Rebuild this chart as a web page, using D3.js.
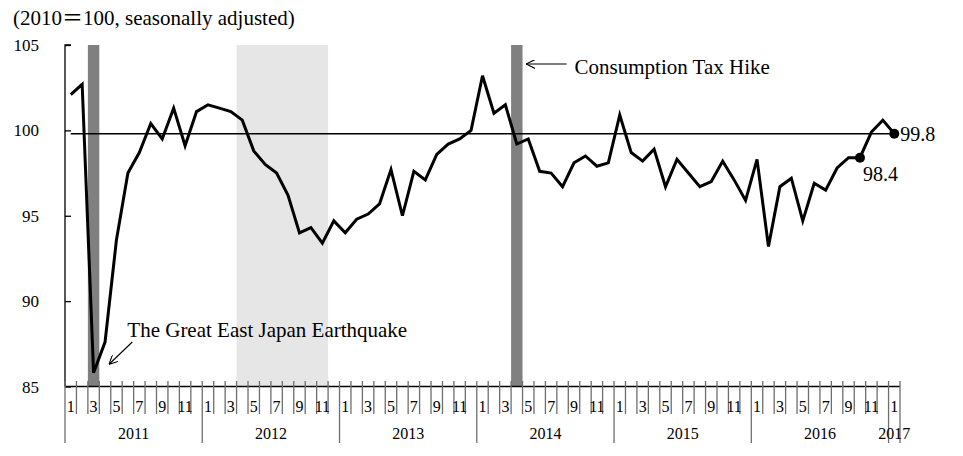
<!DOCTYPE html>
<html>
<head>
<meta charset="utf-8">
<script src="https://cdn.jsdelivr.net/npm/d3@7"></script>
<style>
  html, body { margin: 0; padding: 0; background: #fff; }
  svg { display: block; }
  text { font-family: "Liberation Serif", "Times New Roman", serif; fill: #000; }
</style>
</head>
<body>
<svg id="chart" width="963" height="456"></svg>
<script>
// ---- data ----
const years = [2011, 2012, 2013, 2014, 2015, 2016, 2017];
const values2011 = [102.1, 102.7, 85.8, 87.6, 93.6, 97.5, 98.7, 100.4, 99.5, 101.3, 99.1, 101.1];
const values2012 = [101.5, 101.3, 101.1, 100.6, 98.8, 98.0, 97.5, 96.2, 94.0, 94.3, 93.4, 94.7];
const values2013 = [94.0, 94.8, 95.1, 95.7, 97.7, 95.0, 97.6, 97.1, 98.6, 99.2, 99.5, 100.0];
const values2014 = [103.2, 101.0, 101.5, 99.2, 99.5, 97.6, 97.5, 96.7, 98.1, 98.5, 97.9, 98.1];
const values2015 = [100.9, 98.7, 98.2, 98.9, 96.7, 98.3, 97.5, 96.7, 97.0, 98.2, 97.1, 95.9];
const values2016 = [98.3, 93.2, 96.7, 97.2, 94.7, 96.9, 96.5, 97.8, 98.4, 98.4, 99.9, 100.6];
const values2017 = [99.8];
const yTicks = [85, 90, 95, 100, 105];
const monthLabels = ["1", "", "3", "", "5", "", "7", "", "9", "", "11", ""];
const referenceLevel = 99.8;
const markedPoints = [{ year: 2016, month: 10, label: "98.4" }, { year: 2017, month: 1, label: "99.8" }];
const taxHike = [{ year: 2011, month: 3 }, { year: 2014, month: 4 }];            // dark bars
const recession = { from: { year: 2012, month: 4 }, to: { year: 2012, month: 11 } }; // light shading
const titleParts = ["(2010", "\uFF1D", "100, seasonally adjusted)"];
const quakeText = "The Great East Japan Earthquake";
const taxText = "Consumption Tax Hike";

// ---- build monthly series ----
const yearValues = [values2011, values2012, values2013, values2014, values2015, values2016, values2017];
const series = [];
yearValues.forEach((vals, yi) => vals.forEach((v, mi) => series.push({ year: years[yi], month: mi + 1, value: v, key: years[yi] + "-" + (mi + 1) })));
const keyOf = (yr, m) => yr + "-" + m;

// ---- layout ----
const svg = d3.select("#chart");
const pLeft = 65, pRight = 900, pTop = 45, pBottom = 386.5;

const x = d3.scaleBand().domain(series.map(d => d.key)).range([pLeft, pRight]).paddingInner(0).paddingOuter(0);
const bw = x.bandwidth();
const cx = k => x(k) + bw / 2;
const y = d3.scaleLinear().domain([85, 105]).range([pBottom, pTop]);

// shading
svg.append("rect")
  .attr("x", x(keyOf(recession.from.year, recession.from.month)))
  .attr("width", x(keyOf(recession.to.year, recession.to.month)) + bw - x(keyOf(recession.from.year, recession.from.month)))
  .attr("y", pTop).attr("height", pBottom - pTop)
  .attr("fill", "#e6e6e6");

svg.selectAll("rect.tax").data(taxHike).join("rect")
  .attr("class", "tax")
  .attr("x", d => x(keyOf(d.year, d.month)))
  .attr("width", bw)
  .attr("y", pTop).attr("height", pBottom - pTop)
  .attr("fill", "#808080");

// reference line at latest level
svg.append("line")
  .attr("x1", cx(series[0].key)).attr("x2", cx(series[series.length - 1].key))
  .attr("y1", y(referenceLevel)).attr("y2", y(referenceLevel))
  .attr("stroke", "#000").attr("stroke-width", 1.5);

// data line
const line = d3.line().x(d => cx(d.key)).y(d => y(d.value));
svg.append("path").datum(series)
  .attr("d", line)
  .attr("fill", "none").attr("stroke", "#000").attr("stroke-width", 3)
  .attr("stroke-linejoin", "miter").attr("stroke-miterlimit", 4);

// Y axis
const yAxis = d3.axisRight(y).tickValues(yTicks).tickSize(6).tickFormat("");
const gy = svg.append("g").attr("transform", `translate(${pLeft},0)`).call(yAxis);
gy.select(".domain").attr("d", `M6,${pTop}H0V${pBottom}`).attr("stroke", "#000").attr("stroke-width", 1.3);
gy.selectAll(".tick line").attr("stroke", "#000").attr("stroke-width", 1.3);
svg.selectAll("text.ylab").data(yTicks).join("text")
  .attr("class", "ylab")
  .attr("x", 39).attr("y", d => y(d) + 6)
  .attr("text-anchor", "end").attr("font-size", 17)
  .text(d => d);

// X axis baseline
svg.append("line").attr("x1", pLeft).attr("x2", pRight).attr("y1", pBottom).attr("y2", pBottom)
  .attr("stroke", "#000").attr("stroke-width", 1.5);

// month boundary ticks
const boundaries = series.map(d => x(d.key)).concat([pRight]);
svg.selectAll("line.mtick").data(boundaries).join("line")
  .attr("class", "mtick")
  .attr("x1", d => d).attr("x2", d => d)
  .attr("y1", 381).attr("y2", 414)
  .attr("stroke", "#6e6e6e").attr("stroke-width", 1.3);

// year boundary lines
const yearStarts = years.map(yr => x(keyOf(yr, 1))).concat([pRight]);
svg.selectAll("line.ytick").data(yearStarts).join("line")
  .attr("class", "ytick")
  .attr("x1", d => d).attr("x2", d => d)
  .attr("y1", 414).attr("y2", 443)
  .attr("stroke", "#6e6e6e").attr("stroke-width", 1.3);

// month labels
svg.selectAll("text.mlab").data(series.filter(d => monthLabels[d.month - 1] !== "")).join("text")
  .attr("class", "mlab")
  .attr("x", d => cx(d.key)).attr("y", 412)
  .attr("text-anchor", "middle").attr("font-size", 16)
  .text(d => monthLabels[d.month - 1]);

// year labels
svg.selectAll("text.yrlab").data(years).join("text")
  .attr("class", "yrlab")
  .attr("x", yr => {
    const ms = series.filter(d => d.year === yr);
    return (x(ms[0].key) + x(ms[ms.length - 1].key) + bw) / 2;
  })
  .attr("y", 439)
  .attr("text-anchor", "middle").attr("font-size", 16)
  .text(yr => yr);

// title
const title = svg.append("text").attr("x", 13).attr("y", 25).attr("font-size", 21);
title.append("tspan").text(titleParts[0]);
title.append("tspan").style("font-family", "'Noto Sans CJK JP', 'Liberation Serif', serif").text(titleParts[1]);
title.append("tspan").text(titleParts[2]);

// marked points
svg.selectAll("circle.mark").data(markedPoints).join("circle")
  .attr("class", "mark")
  .attr("cx", d => cx(keyOf(d.year, d.month)))
  .attr("cy", d => y(series.find(s => s.key === keyOf(d.year, d.month)).value))
  .attr("r", 5).attr("fill", "#000");

const m1 = markedPoints[0], m2 = markedPoints[1];
const v1 = series.find(s => s.key === keyOf(m1.year, m1.month)).value;
const v2 = series.find(s => s.key === keyOf(m2.year, m2.month)).value;
svg.append("text").attr("x", cx(keyOf(m1.year, m1.month)) + 3).attr("y", y(v1) + 23)
  .attr("font-size", 20).text(m1.label);
svg.append("text").attr("x", cx(keyOf(m2.year, m2.month)) + 6).attr("y", y(v2) + 7)
  .attr("font-size", 20).text(m2.label);

// arrow marker
const defs = svg.append("defs");
defs.append("marker").attr("id", "arr")
  .attr("viewBox", "0 0 10 10").attr("refX", 9.5).attr("refY", 5)
  .attr("markerWidth", 9).attr("markerHeight", 9).attr("markerUnits", "userSpaceOnUse")
  .attr("orient", "auto")
  .append("path").attr("d", "M0,0L10,5L0,10").attr("fill", "none").attr("stroke", "#000").attr("stroke-width", 1.2);

// Consumption tax annotation
const taxX = x(keyOf(taxHike[1].year, taxHike[1].month)) + bw;
svg.append("line").attr("x1", taxX + 44).attr("y1", 64).attr("x2", taxX + 4).attr("y2", 64)
  .attr("stroke", "#000").attr("stroke-width", 1.1).attr("marker-end", "url(#arr)");
svg.append("text").attr("x", taxX + 52).attr("y", 74).attr("font-size", 21).text(taxText);

// Earthquake annotation
const qX = x(keyOf(taxHike[0].year, taxHike[0].month)) + bw;
svg.append("line").attr("x1", qX + 33).attr("y1", 342).attr("x2", qX + 10).attr("y2", 364)
  .attr("stroke", "#000").attr("stroke-width", 1.1).attr("marker-end", "url(#arr)");
svg.append("text").attr("x", qX + 28).attr("y", 337).attr("font-size", 21).text(quakeText);
</script>
</body>
</html>
